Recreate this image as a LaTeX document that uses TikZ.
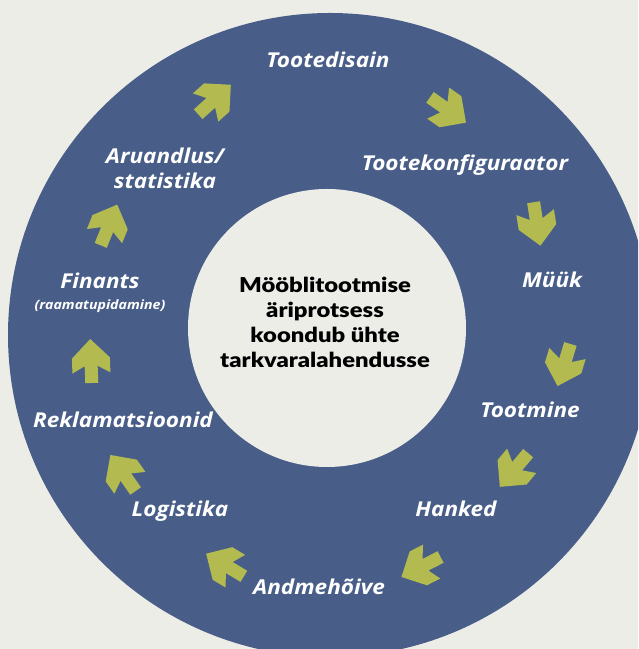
\documentclass[tikz,border=0pt]{standalone}
\usepackage{fontspec}
\newfontfamily\etiqfont{Open Sans}[FakeStretch=1.1]
\newfontfamily\centrefont{Lato Black}[FakeStretch=1.16]
\definecolor{fond}{HTML}{EDEDE8}
\definecolor{bleu}{HTML}{485E88}
\definecolor{vert}{HTML}{B3BA4F}
\tikzset{
  etape/.style={text=white, align=center, inner sep=0pt,
    font=\etiqfont\bfseries\itshape\fontsize{17.5}{21.3}\selectfont},
  centre/.style={text=black, align=center, inner sep=0pt,
    font=\centrefont\fontsize{17.5}{21.3}\selectfont},
  fleche/.pic={\fill[vert] (22,0) -- (3,19) -- (-12,19) -- (-5,6.5) -- (-22,6.5)
    -- (-22,-6.5) -- (-5,-6.5) -- (-12,-19) -- (3,-19) -- cycle;}
}
\begin{document}
\begin{tikzpicture}[x=0.3mm, y=0.3mm]
    % Cadre et fond
    \useasboundingbox (0,0) rectangle (638,649);
    \fill[fond] (0,0) rectangle (638,649);
    \clip (0,0) rectangle (638,649);

    % Anneau bleu et disque central
    \fill[bleu] (330,314) circle (322);
    \fill[fond] (327,321) circle (139);

    % Texte du centre
    \node[centre] (coeur) at (325,327) {Mööblitootmise\\äriprotsess\\koondub ühte\\tarkvaralahendusse};

    % Les étapes du cycle
    \node[etape] (disain) at (328,589) {Tootedisain};
    \node[etape] (konfig) at (465,484) {Tootekonfiguraator};
    \node[etape] (muuk) at (552,369) {Müük};
    \node[etape] (tootmine) at (530,239) {Tootmine};
    \node[etape] (hanked) at (456,140) {Hanked};
    \node[etape] (andme) at (319,62) {Andmehõive};
    \node[etape] (logistika) at (180,138) {Logistika};
    \node[etape] (rekla) at (123,229) {Reklamatsioonid};
    \node[etape] (finants) at (100,356) {Finants\\[-3pt]{\fontsize{11}{13}\selectfont (raamatupidamine)}};
    \node[etape] (aruandlus) at (165,481) {Aruandlus/\\statistika};

    % Flèches entre les étapes
    \pic[rotate=42] at (214.5,549.5) {fleche};
    \pic[rotate=-35] at (448,539) {fleche};
    \pic[rotate=-81] at (537,425) {fleche};
    \pic[rotate=-107] at (564,284) {fleche};
    \pic[rotate=-130] at (514,179) {fleche};
    \pic[rotate=-153] at (421,82) {fleche};
    \pic[rotate=149] at (225,84) {fleche};
    \pic[rotate=125] at (123,176) {fleche};
    \pic[rotate=92] at (91,288) {fleche};
    \pic[rotate=68] at (109,424) {fleche};
\end{tikzpicture}
\end{document}
